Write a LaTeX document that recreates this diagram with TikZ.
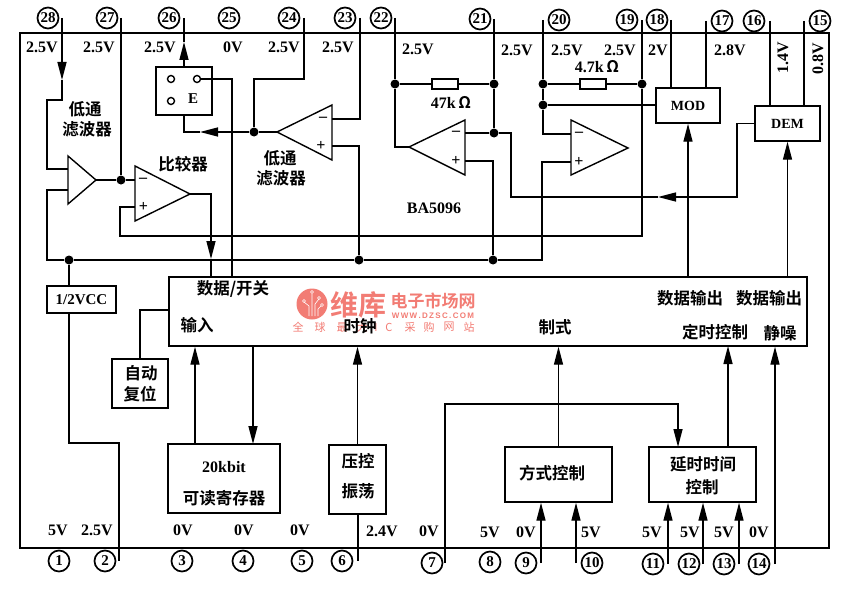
\documentclass[tikz,border=0pt]{standalone}
\usepackage{fontspec}
\setmainfont{Liberation Serif}
\newfontfamily\cjk{Noto Sans CJK SC}[BoldFont={Noto Sans CJK SC Bold}]
\newfontfamily\wmsans{Liberation Sans}
\usetikzlibrary{arrows.meta,positioning,calc}
\definecolor{wmred}{HTML}{F27C74}

\begin{document}
\begin{tikzpicture}[
    x=1pt, y=-1pt,
    line width=1.4pt,
    volt/.style={font=\fontsize{16}{16}\selectfont\bfseries, inner sep=0pt},
    cn/.style={font=\fontsize{16.5}{16.5}\selectfont\cjk\bfseries, inner sep=0pt},
    pinnum/.style={draw, circle, line width=1.7pt, minimum size=21pt, inner sep=0pt,
                   font=\fontsize{15}{15}\selectfont\bfseries},
    block/.style={draw, inner sep=0pt},
    dot/.style={fill, circle, inner sep=0pt, minimum size=9pt},
    hole/.style={draw, circle, fill=white, inner sep=0pt, minimum size=7pt},
    res/.style={draw, fill=white, inner sep=0pt, minimum width=26pt, minimum height=10pt},
    arr/.style={-{Triangle[length=18pt, width=9pt]}},
    sgn/.style={font=\fontsize{16}{16}\selectfont\bfseries, inner sep=0pt},
]
\useasboundingbox (0,0) rectangle (850,599);

% --- Chip outline and main block ---
\node[block, minimum width=809pt, minimum height=515pt] (chip) at (424.5,290.5) {};
\node[block, minimum width=638pt, minimum height=69pt] (logic) at (488,311.5) {};

% --- Top pins ---
\foreach \n/\cx/\cy/\lx in {28/48/18/62, 27/107/18/121, 26/169/18/184, 24/289/18/304, 23/345/18/360,
    22/381/18/395, 21/480/19/494, 20/559/20/543, 19/627/20/642, 18/657/20/671,
    17/722/21/706, 16/754/21/770, 15/820/21/804} {
  \node[pinnum] (c\n) at (\cx,\cy) {\n};
  \coordinate (p\n) at (\lx,\cy);
}
\node[pinnum] (c25) at (229,18) {25};

% --- Bottom pins ---
\foreach \n/\cx/\cy/\lx in {2/105/561/119, 6/342/561/358, 7/432/563/445, 9/526/563/541, 10/592/563/576,
    11/653/564/668, 12/689/564/703, 13/724/564/739, 14/759/564/775} {
  \node[pinnum] (c\n) at (\cx,\cy) {\n};
  \coordinate (p\n) at (\lx,\cy);
}
\node[pinnum] (c1) at (59,561) {1};
\node[pinnum] (c3) at (182,561) {3};
\node[pinnum] (c4) at (243,561) {4};
\node[pinnum] (c5) at (302,561) {5};
\node[pinnum] (c8) at (490,562) {8};

% --- Pin voltages ---
\foreach \v/\x/\y [count=\i] in {2.5V/42/47, 2.5V/99/47, 2.5V/160/47, 0V/233/47, 2.5V/284/47, 2.5V/338/47,
    2.5V/418/49, 2.5V/517/50, 2.5V/567/50, 2.5V/620/50, 2V/658/50, 2.8V/730/50,
    5V/58/530, 2.5V/97/530, 0V/183/530, 0V/244/530, 0V/300/530, 2.4V/382/531, 0V/429/531,
    5V/490/532, 0V/526/532, 5V/591/532, 5V/652/532, 5V/690/532, 5V/724/532, 0V/759/532}
  \node[volt] (v\i) at (\x,\y) {\v};
\node[volt, rotate=90] (v16) at (783,58) {1.4V};
\node[volt, rotate=90] (v15) at (818,59) {0.8V};

% --- Function blocks ---
\node[block, minimum width=56pt, minimum height=48pt] (sw) at (184,91) {};
\node[block, minimum width=64pt, minimum height=35pt] (mod) at (688,105.5) {\fontsize{14}{14}\selectfont\bfseries MOD};
\node[block, minimum width=65pt, minimum height=35pt] (dem) at (787.5,123.5) {\fontsize{14}{14}\selectfont\bfseries DEM};
\node[block, minimum width=69pt, minimum height=27pt] (vcc) at (81.5,299.5) {\fontsize{15}{15}\selectfont\bfseries 1/2VCC};
\node[block, minimum width=56pt, minimum height=49pt] (reset) at (140,383.5) {};
\node[block, minimum width=112pt, minimum height=69pt] (rom) at (224,478.5) {};
\node[block, minimum width=57pt, minimum height=69pt] (vco) at (357.5,479.5) {};
\node[block, minimum width=107pt, minimum height=55pt] (mode) at (558.5,474.5) {};
\node[block, minimum width=107pt, minimum height=55pt] (delay) at (702.5,474.5) {};

% switch contacts
\node[hole] (h1) at (171,79) {};
\node[hole] (h2) at (197,79) {};
\node[hole] (h3) at (171,101) {};
\node[font=\fontsize{15}{15}\selectfont\bfseries, inner sep=0pt] (swe) at (193,99) {E};

% --- Amplifiers ---
\draw (68,156) -- (68,204) -- (96,180) -- cycle;
\coordinate (ampa) at (68,169);
\coordinate (ampb) at (68,190);
\coordinate (ampo) at (96,180);
\draw (135,166) -- (135,221) -- (190,194) -- cycle;
\coordinate (cmpm) at (135,180);
\coordinate (cmpp) at (135,207);
\coordinate (cmpo) at (190,194);
\draw (332,105) -- (332,160) -- (277,132) -- cycle;
\coordinate (fltm) at (332,119);
\coordinate (fltp) at (332,146);
\coordinate (flto) at (277,132);
\draw (465,120) -- (465,175) -- (409,147) -- cycle;
\coordinate (lopm) at (465,133);
\coordinate (lopp) at (465,161);
\coordinate (lopo) at (409,147);
\draw (571,120) -- (571,175) -- (628,148) -- cycle;
\coordinate (ropm) at (571,134);
\coordinate (ropp) at (571,162);
\foreach \s/\x/\y/\t in {a/143/180/--, b/143.5/207/+, c/323/119/--, d/321/146/+, e/456/133/--, f/456/161/+, g/579/134/--, h/579/162/+}
  \node[sgn] (s\s) at (\x,\y) {\t};

% --- Junctions ---
\node[dot] (j27) at (121,180) {};
\node[dot] (j24) at (254,132) {};
\node[dot] (jvcc) at (69,260) {};
\node[dot] (jmid) at (359,260) {};
\node[dot] (jbus) at (493,260) {};
\node[dot] (j22) at (395,84) {};
\node[dot] (j21t) at (494,84) {};
\node[dot] (j21) at (494,133) {};
\node[dot] (j20t) at (543,84) {};
\node[dot] (j20) at (543,105) {};
\node[dot] (j19) at (642,84) {};

% --- Resistors ---
\node[res] (r47) at (445,84) {};
\node[res] (r4) at (593,84) {};

% --- Upper wiring ---
\coordinate (t28) at (62,80);
\draw[arr] (p28) -- (t28);
\draw (t28) -- (62,100) -- (47,100) -- (47,169) -- (ampa);
\coordinate (bl) at (47,260);
\draw (ampb) -| (bl) -- (jvcc);
\draw (ampo) -- (j27) -- (cmpm);
\draw (p27) -- (j27);
\coordinate (t26) at (184,42);
\draw[arr] (sw.north -| p26) -- (t26);
\draw (t26) -- (p26);
\draw (h2) -| (232,277);
\draw (p24) |- (254,79) -- (j24);
\coordinate (tflt) at (200,132);
\draw (flto) -- (j24);
\draw[arr] (j24) -- (tflt);
\draw (tflt) -| (sw.south -| p26);
\draw (p23) |- (fltm);
\draw (fltp) -| (jmid);
\coordinate (tcmp) at (211,259);
\draw[arr] (cmpo) -| (tcmp);
\draw (tcmp) -- (211,277);
\draw (cmpp) -| (120,236) -- (642,236) -- (j19);
\draw (j19) -- (p19);
\draw (jvcc) -- (jmid) -- (jbus) -- (542,260) -- (542,162) -- (ropp);
\draw (jvcc) -- (jvcc |- vcc.north);

% --- Resistor nets ---
\draw (p22) -- (j22) -- (r47) -- (j21t);
\draw (j22) |- (395,147) -- (lopo);
\draw (p21) -- (j21t) -- (j21) -- (lopm);
\draw (lopp) -| (jbus);
\coordinate (tdem) at (658,197);
\draw[arr] (dem.west) -| (737,197) -- (tdem);
\draw (tdem) -| (511,133) -- (j21);
\draw (p20) -- (j20t) -- (j20) |- (ropm);
\draw (j20t) -- (r4) -- (j19);
\draw (j20) -- (mod.west |- j20);

% --- MOD / DEM ---
\draw (p18) -- (mod.north -| p18);
\draw (p17) -- (mod.north -| p17);
\draw (p16) -- (dem.north -| p16);
\draw (p15) -- (dem.north -| p15);
\draw[arr] (logic.north -| mod) -- (mod);
\draw[arr] (logic.north -| dem) -- (dem);

% --- Lower wiring ---
\draw (jvcc |- vcc.south) |- (119,443) -- (p2);
\draw (reset.north) |- (logic.west |- 0,310);
\coordinate (rom1) at (195,444);
\coordinate (rom2) at (253,444);
\draw[arr] (rom1) -- (rom1 |- logic.south);
\draw[arr] (rom2 |- logic.south) -- (rom2);
\draw[arr] (vco.north) -- (logic.south -| vco);
\draw (vco.south -| p6) -- (p6);
\draw[arr] (mode.north) -- (logic.south -| mode);
\draw[arr] (delay.north -| 728,0) -- (728,346);
\draw[arr] (p14) -- (logic.south -| p14);
\coordinate (t7) at (678,447);
\draw[arr] (p7) |- (678,404) -- (t7);
\draw[arr] (p9) -- (mode.south -| p9);
\draw[arr] (p10) -- (mode.south -| p10);
\draw[arr] (p11) -- (delay.south -| p11);
\draw[arr] (p12) -- (delay.south -| p12);
\draw[arr] (p13) -- (delay.south -| p13);

% --- Texts ---
\node[cn] (t1) at (85,109) {低通};
\node[cn] (t2) at (87,129) {滤波器};
\node[cn] (t3) at (183,164) {比较器};
\node[cn] (t4) at (280,158) {低通};
\node[cn] (t5) at (281,178) {滤波器};
\node[volt] (t6) at (434,208) {BA5096};
\node[volt] (t7a) at (451,102) {47k\,{\cjk Ω}};
\node[volt] (t8) at (597,67) {4.7k\,{\cjk Ω}};
\node[cn] (t9) at (141,373) {自动};
\node[cn] (t10) at (140,394) {复位};
\node[volt] (t11) at (224,467) {20kbit};
\node[cn] (t12) at (224,498) {可读寄存器};
\node[cn] (t13) at (358,461) {压控};
\node[cn] (t14) at (358,491) {振荡};
\node[cn] (t15) at (552,473) {方式控制};
\node[cn] (t16) at (703,464) {延时时间};
\node[cn] (t17) at (702,487) {控制};

% --- Watermark ---
\fill[wmred] (312,304) circle (15.5);
\foreach \x/\y in {304/301, 319/298, 322/305, 312/292} {
  \draw[white, line width=0.6pt] (\x,\y) circle (1.5);
}
\draw[white, line width=0.6pt] (304,302) -- (309,306) -- (309,316) (312,294) -- (312,316) (319,299) -- (315,304) -- (315,316) (321,306) -- (318,309) -- (318,316);
\node[font=\fontsize{28}{28}\selectfont\cjk\bfseries, wmred, inner sep=0pt] (wm1) at (358,305) {维库};
\node[font=\fontsize{17}{17}\selectfont\cjk\bfseries, wmred, inner sep=0pt] (wm2) at (433,301) {电子市场网};
\node[font=\fontsize{8}{8}\selectfont\wmsans\bfseries, wmred, inner sep=0pt] (wm3) at (433,316) {W\,W\,W\,.\,D\,Z\,S\,C\,.\,C\,O\,M};
\foreach \c/\x in {全/298, 球/320, 最/342, 大/362, I/376, C/389, 采/410, 购/429, 网/449, 站/469}
  \node[font=\fontsize{11}{11}\selectfont\cjk, wmred, inner sep=0pt] (wm\x) at (\x,327) {\c};

% --- Main block labels (over the watermark) ---
\node[cn] (l1) at (233,289) {数据/开关};
\node[cn] (l2) at (197,325) {输入};
\node[cn] (l3) at (360,326) {时钟};
\node[cn] (l4) at (555,327) {制式};
\node[cn] (l5) at (690,298) {数据输出};
\node[cn] (l6) at (769,298) {数据输出};
\node[cn] (l7) at (715,332) {定时控制};
\node[cn] (l8) at (780,333) {静噪};
\end{tikzpicture}
\end{document}
